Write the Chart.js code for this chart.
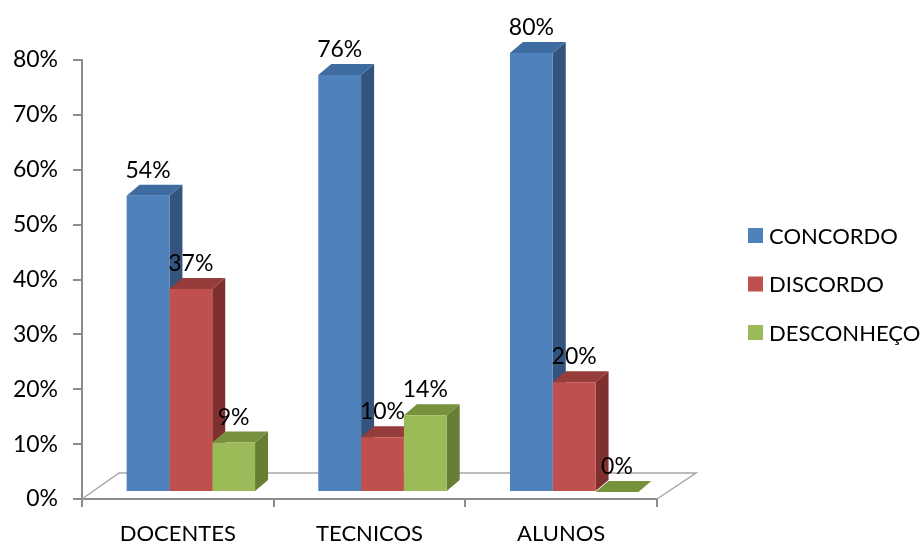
<!DOCTYPE html>
<html>
<head>
<meta charset="utf-8">
<script src="https://cdn.jsdelivr.net/npm/chart.js@4"></script>
<style>
  html, body { margin: 0; padding: 0; background: #fff; }
  #box { width: 924px; height: 545px; }
</style>
</head>
<body>
<div id="box"><canvas id="myChart"></canvas></div>
<script>
const categories = ['DOCENTES', 'TECNICOS', 'ALUNOS'];
const seriesNames = ['CONCORDO', 'DISCORDO', 'DESCONHEÇO'];
const concordo = [54, 76, 80];
const discordo = [37, 10, 20];
const desconheco = [9, 14, 0];
const yTicks = [0, 10, 20, 30, 40, 50, 60, 70, 80];

// front / top / side colours of each series
const fronts = ['#4F81BD', '#C0504D', '#9BBB59'];
const tops = ['#3E6BA0', '#963D3B', '#76923C'];
const sides = ['#34537D', '#7F2F2E', '#667F35'];

const FONT = 'Lato, "DejaVu Sans", sans-serif';
const axisGray = '#8c8c8c';

// how far the bars sit back on the floor, and their own depth
const shift = { dx: 13, dy: -7 };
const depth = { dx: 13, dy: -11 };

const bars3d = {
  id: 'bars3d',
  beforeDatasetsDraw(chart) {
    const ctx = chart.ctx;
    const a = chart.chartArea;
    // floor outline (front edge is the x axis line)
    ctx.save();
    ctx.strokeStyle = '#a6a6a6';
    ctx.lineWidth = 1.5;
    ctx.beginPath();
    ctx.moveTo(a.left, a.bottom);
    ctx.lineTo(a.left + 37, a.bottom - 26);
    ctx.lineTo(a.right + 39, a.bottom - 26);
    ctx.lineTo(a.right, a.bottom);
    ctx.stroke();
    ctx.restore();

    ctx.save();
    ctx.translate(shift.dx, shift.dy);
    chart.data.datasets.forEach((ds, i) => {
      const meta = chart.getDatasetMeta(i);
      meta.data.forEach(bar => {
        const { x, y, base, width } = bar.getProps(['x', 'y', 'base', 'width'], true);
        const l = x - width / 2, r = x + width / 2;
        // side
        ctx.fillStyle = sides[i];
        ctx.beginPath();
        ctx.moveTo(r, y);
        ctx.lineTo(r + depth.dx, y + depth.dy);
        ctx.lineTo(r + depth.dx, base + depth.dy);
        ctx.lineTo(r, base);
        ctx.closePath();
        ctx.fill();
        // top
        ctx.fillStyle = tops[i];
        ctx.beginPath();
        ctx.moveTo(l, y);
        ctx.lineTo(l + depth.dx, y + depth.dy);
        ctx.lineTo(r + depth.dx, y + depth.dy);
        ctx.lineTo(r, y);
        ctx.closePath();
        ctx.fill();
      });
    });
    // stays translated while chart.js draws the fronts
  },
  afterDatasetsDraw(chart) {
    const ctx = chart.ctx;
    ctx.font = '23px ' + FONT;
    ctx.fillStyle = '#000';
    ctx.textAlign = 'center';
    ctx.textBaseline = 'alphabetic';
    chart.data.datasets.forEach((ds, i) => {
      chart.getDatasetMeta(i).data.forEach((bar, j) => {
        ctx.fillText(ds.data[j] + '%', bar.x, bar.y - 18);
      });
    });
    ctx.restore();
  },
  afterDraw(chart) {
    // legend
    const ctx = chart.ctx;
    ctx.save();
    ctx.font = '22px ' + FONT;
    ctx.textBaseline = 'middle';
    ctx.textAlign = 'left';
    chart.data.datasets.forEach((ds, i) => {
      const cy = 235.5 + i * 48.5;
      ctx.fillStyle = ds.backgroundColor;
      ctx.fillRect(748, cy - 7.5, 15, 15);
      ctx.fillStyle = '#000';
      ctx.fillText(ds.label, 769, cy + 1);
    });
    ctx.restore();
  }
};

const ctx = document.getElementById('myChart');

new Chart(ctx, {
  type: 'bar',
  data: {
    labels: categories,
    datasets: [
      { label: seriesNames[0], data: concordo, backgroundColor: fronts[0] },
      { label: seriesNames[1], data: discordo, backgroundColor: fronts[1] },
      { label: seriesNames[2], data: desconheco, backgroundColor: fronts[2] }
    ]
  },
  options: {
    responsive: true,
    maintainAspectRatio: false,
    animation: false,
    events: [],
    datasets: {
      bar: { barPercentage: 1, categoryPercentage: 0.67, borderWidth: 0 }
    },
    layout: { padding: { left: 0, top: 60, right: 267, bottom: 0 } },
    plugins: {
      legend: { display: false },
      tooltip: { enabled: false }
    },
    scales: {
      x: {
        grid: { drawOnChartArea: false, offset: true, tickLength: 8, color: axisGray, lineWidth: 2 },
        border: { color: axisGray, width: 2 },
        ticks: { color: '#000', font: { family: FONT, size: 22 }, padding: 14 },
        afterFit(scale) { scale.height = 46; }
      },
      y: {
        min: 0,
        max: 80,
        grid: { drawOnChartArea: false, tickLength: 9, color: axisGray, lineWidth: 2 },
        border: { color: axisGray, width: 2 },
        afterBuildTicks(scale) { scale.ticks = yTicks.map(v => ({ value: v })); },
        ticks: {
          color: '#000',
          font: { family: FONT, size: 23 },
          padding: 15,
          callback: v => v + '%'
        },
        afterFit(scale) { scale.width = 82; }
      }
    }
  },
  plugins: [bars3d]
});
</script>
</body>
</html>
